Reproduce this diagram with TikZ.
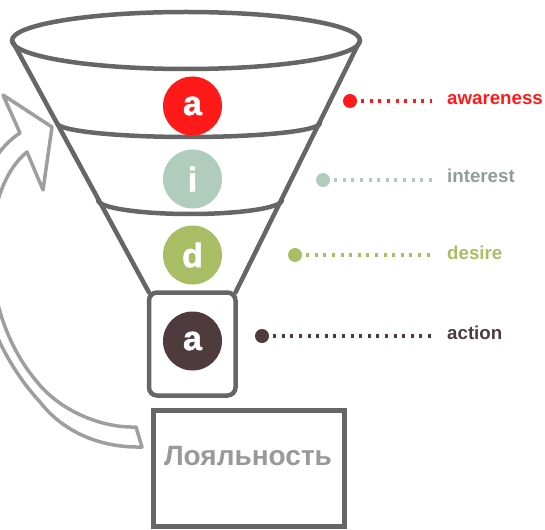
\documentclass[tikz,border=0pt]{standalone}
\usepackage{fontspec}
\setmainfont{Liberation Sans}
\newfontfamily\heavyfont[BoldFeatures={FakeBold=1.5}]{Liberation Sans}
\definecolor{fun}{HTML}{666666}
\definecolor{arr}{HTML}{9E9E9E}
\definecolor{cred}{HTML}{FF1A1A}
\definecolor{cint}{HTML}{B0CCBD}
\definecolor{cintt}{HTML}{8E9E96}
\definecolor{cdes}{HTML}{A9BD64}
\definecolor{cact}{HTML}{4F3B3E}
\definecolor{loy}{HTML}{999999}
\begin{document}
\begin{tikzpicture}[x=1pt,y=-1pt,
 funline/.style={draw=fun,line width=4.5pt,line join=round,line cap=round},
 letter/.style={circle,minimum size=59pt,inner sep=0pt,text=white,font=\heavyfont\bfseries\fontsize{34}{34}\selectfont},
 bullet/.style={circle,minimum size=14pt,inner sep=0pt},
 lab/.style={anchor=base west,inner sep=0pt,font=\bfseries\fontsize{18.7}{20}\selectfont},
 dotline/.style={line width=3.3pt,line cap=butt,dash pattern=on 3pt off 5.6pt,shorten <=4pt,shorten >=15pt},
]
\useasboundingbox (0,0) rectangle (545,529);
\clip (0,0) rectangle (545,529);
% loop arrow
\draw[arr,line width=3.5pt,line join=round]
  (136,427) .. controls (100,428) and (60,410) .. (38,383)
  .. controls (-25,310) and (-20,190) .. (27,152)
  -- (43,190) -- (52,127) -- (3,95) -- (20,133)
  .. controls (-45,175) and (-40,315) .. (40,402)
  .. controls (60,428) and (95,448) .. (142,447) -- cycle;
% funnel
\draw[funline] (186,40.5) ellipse [x radius=174, y radius=28.5];
\coordinate (eL) at (12,40.5);
\coordinate (eR) at (360,40.5);
\node[draw=fun,line width=4.5pt,rounded corners=8pt,minimum width=86.5pt,minimum height=103pt,inner sep=0pt,outer sep=0pt] (actbox) at (192.25,344) {};
\draw[funline] (eL) -- (actbox.north west);
\draw[funline] (eR) -- (actbox.north east);
\draw[funline] (57,123) arc[start angle=180,end angle=0,x radius=131.5,y radius=14];
\draw[funline] (98,200) arc[start angle=180,end angle=0,x radius=92,y radius=14];
% circles
\node[letter,fill=cred] (cA) at (192.5,106) {a};
\node[letter,fill=cint] (cI) at (192.5,179) {i};
\node[letter,fill=cdes] (cD) at (192.5,255) {d};
\node[letter,fill=cact] (cB) at (192.5,341) {a};
% labels
\node[lab,text=cred] (labA) at (447,105) {awareness};
\node[lab,text=cintt] (labI) at (447,183) {interest};
\node[lab,text=cdes] (labD) at (447,259) {desire};
\node[lab,text=cact] (labB) at (447,339) {action};
\node[bullet,fill=cred] (dA) at (350,101) {};
\node[bullet,fill=cint] (dI) at (323,180) {};
\node[bullet,fill=cdes] (dD) at (295,255) {};
\node[bullet,fill=cact] (dB) at (262,336) {};
\draw[dotline,cred] (dA.east) -- (dA.east -| labA.west);
\draw[dotline,cint] (dI.east) -- (dI.east -| labI.west);
\draw[dotline,cdes] (dD.east) -- (dD.east -| labD.west);
\draw[dotline,cact] (dB.east) -- (dB.east -| labB.west);
% loyalty box
\node[draw=fun,line width=5pt,minimum width=190.5pt,minimum height=116.5pt,inner sep=0pt,outer sep=0pt] (loybox) at (248.75,468.25) {};
\node[anchor=base,inner sep=0pt,text=loy,font=\bfseries\fontsize{28}{30}\selectfont] (loytext) at (248,465) {Лояльность};
\end{tikzpicture}
\end{document}
